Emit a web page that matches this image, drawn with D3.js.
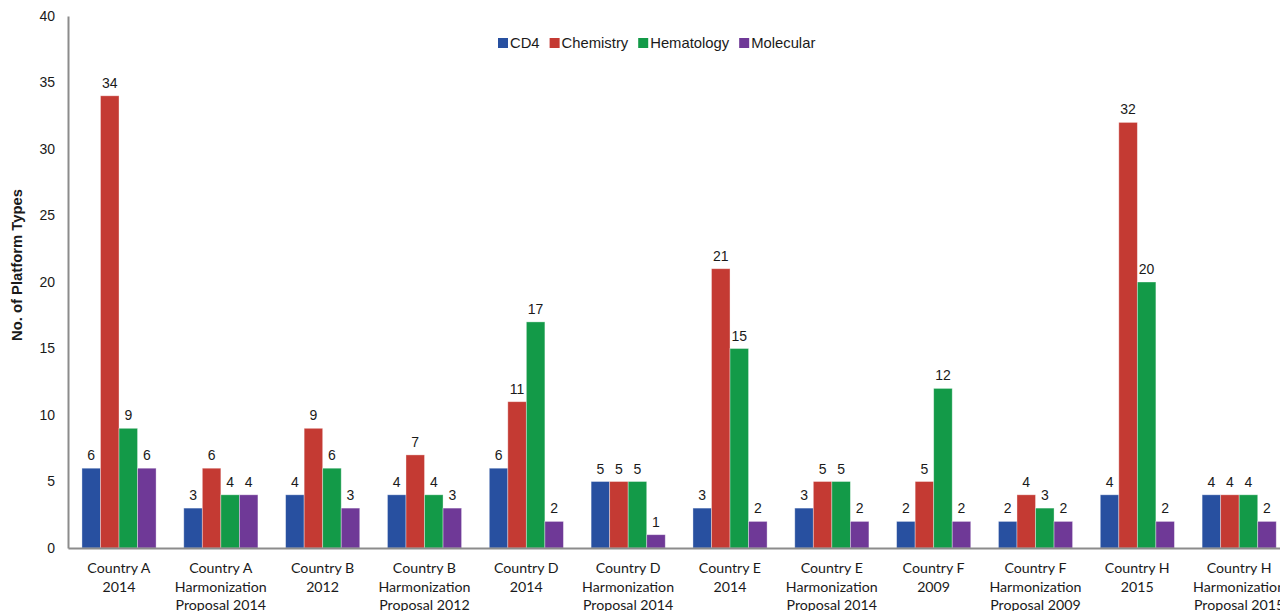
<!DOCTYPE html>
<html>
<head>
<meta charset="utf-8">
<script src="https://cdn.jsdelivr.net/npm/d3@7"></script>
<style>
  body { margin: 0; background: #fff; }
  svg { display: block; }
</style>
</head>
<body>
<div id="chart"></div>
<script>
// category labels (one array of lines per group)
const categories = [
  ['Country A', '2014'],
  ['Country A', 'Harmonization', 'Proposal 2014'],
  ['Country B', '2012'],
  ['Country B', 'Harmonization', 'Proposal 2012'],
  ['Country D', '2014'],
  ['Country D', 'Harmonization', 'Proposal 2014'],
  ['Country E', '2014'],
  ['Country E', 'Harmonization', 'Proposal 2014'],
  ['Country F', '2009'],
  ['Country F', 'Harmonization', 'Proposal 2009'],
  ['Country H', '2015'],
  ['Country H', 'Harmonization', 'Proposal 2015']
];
const seriesNames = ['CD4', 'Chemistry', 'Hematology', 'Molecular'];
const cd4        = [6, 3, 4, 4, 6, 5, 3, 3, 2, 2, 4, 4];
const chemistry  = [34, 6, 9, 7, 11, 5, 21, 5, 5, 4, 32, 4];
const hematology = [9, 4, 6, 4, 17, 5, 15, 5, 12, 3, 20, 4];
const molecular  = [6, 4, 3, 3, 2, 1, 2, 2, 2, 2, 2, 2];
const yTicks = [0, 5, 10, 15, 20, 25, 30, 35, 40];
const colors = ['#2850a0', '#c43a33', '#139a48', '#6f3997'];

const series = [cd4, chemistry, hematology, molecular];
const width = 1280, height = 611;
const margin = { top: 16, right: -10, bottom: 63, left: 68 };
const innerW = width - margin.left - margin.right;
const innerH = height - margin.top - margin.bottom;

const svg = d3.select('#chart').append('svg')
  .attr('width', width)
  .attr('height', height);

const g = svg.append('g')
  .attr('transform', `translate(${margin.left},${margin.top})`);

const x0 = d3.scaleBand().domain(d3.range(categories.length)).range([0, innerW]).padding(0);
const bw = x0.bandwidth();
const x1 = d3.scaleBand().domain(d3.range(seriesNames.length))
  .range([bw * 0.137, bw * 0.865]).padding(0);
const y = d3.scaleLinear().domain([0, 40]).range([innerH, 0]);

// bars
const groups = g.selectAll('.group')
  .data(categories)
  .enter().append('g')
  .attr('class', 'group')
  .attr('transform', (d, i) => `translate(${x0(i)},0)`);

groups.each(function (d, i) {
  const grp = d3.select(this);
  const vals = series.map((s, k) => ({ k, v: s[i] }));
  grp.selectAll('rect')
    .data(vals)
    .enter().append('rect')
    .attr('x', e => x1(e.k))
    .attr('y', e => y(e.v))
    .attr('width', x1.bandwidth())
    .attr('height', e => innerH - y(e.v))
    .attr('fill', e => colors[e.k])
    .attr('stroke', 'rgba(255,255,255,0.45)')
    .attr('stroke-width', 0.8);
  grp.selectAll('text.val')
    .data(vals)
    .enter().append('text')
    .attr('class', 'val')
    .attr('x', e => x1(e.k) + x1.bandwidth() / 2)
    .attr('y', e => y(e.v) - 8)
    .attr('text-anchor', 'middle')
    .style('font-family', 'Liberation Sans, Arial, sans-serif')
    .style('font-size', '14px')
    .style('fill', '#1a1a1a')
    .text(e => e.v);
});

// y axis
const yAxis = g.append('g')
  .call(d3.axisLeft(y).tickValues(yTicks).tickSize(0).tickPadding(13));
yAxis.select('.domain').attr('stroke', '#8c8c8c').attr('stroke-width', 2);
yAxis.selectAll('text')
  .style('font-family', 'Liberation Sans, Arial, sans-serif')
  .style('font-size', '14px')
  .style('fill', '#1a1a1a');

// x axis
const xAxis = g.append('g')
  .attr('transform', `translate(0,${innerH})`)
  .call(d3.axisBottom(x0).tickSize(0).tickFormat(''));
xAxis.select('.domain').attr('stroke', '#8c8c8c').attr('stroke-width', 2);
xAxis.selectAll('.tick').each(function (d) {
  const t = d3.select(this).append('text')
    .attr('text-anchor', 'middle')
    .style('font-family', 'Lato, Open Sans, sans-serif')
    .style('font-size', '14.2px')
    .style('fill', '#1a1a1a');
  categories[d].forEach((line, j) => {
    t.append('tspan').attr('x', 0).attr('y', 25 + j * 18.5).text(line);
  });
});

// y axis title
svg.append('text')
  .attr('transform', `translate(22,${margin.top + 249}) rotate(-90)`)
  .attr('text-anchor', 'middle')
  .style('font-family', 'Liberation Sans, Arial, sans-serif')
  .style('font-size', '14.8px')
  .style('font-weight', 'bold')
  .style('fill', '#1a1a1a')
  .text('No. of Platform Types');

// legend
const legend = svg.append('g').attr('transform', 'translate(498,43)');
let lx = 0;
seriesNames.forEach((name, k) => {
  const item = legend.append('g').attr('transform', `translate(${lx},0)`);
  item.append('rect').attr('x', 0).attr('y', -5).attr('width', 10).attr('height', 10).attr('fill', colors[k]);
  const txt = item.append('text')
    .attr('x', 12).attr('y', 5)
    .style('font-family', 'Liberation Sans, Arial, sans-serif')
    .style('font-size', '14.8px')
    .style('fill', '#1a1a1a')
    .text(name);
  lx += 12 + txt.node().getComputedTextLength() + 10;
});
</script>
</body>
</html>
